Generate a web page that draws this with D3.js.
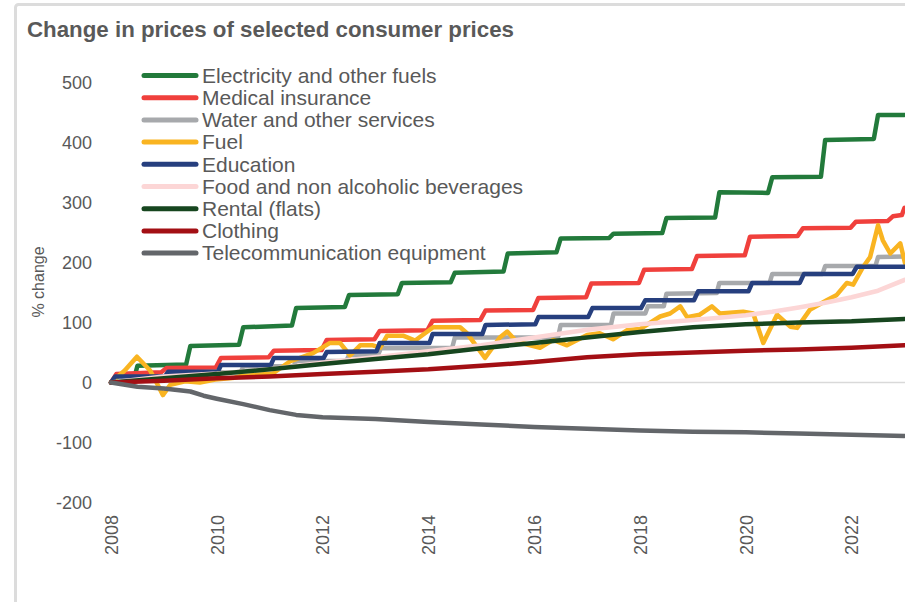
<!DOCTYPE html>
<html lang="en">
  <head>
    <meta charset="UTF-8" />
    <title>Change in prices of selected consumer prices</title>
    <script src="https://d3js.org/d3.v7.min.js"></script>
    <style>
      body {
        margin: 0;
        background: #ffffff;
        font-family: "Liberation Sans", Arial, sans-serif;
      }
      svg text {
        fill: #595959;
      }
    </style>
  </head>
  <body>
    <div id="chart"></div>
    <script>
    // Series names, in legend order
    const seriesNames = [
        "Electricity and other fuels",
        "Medical insurance",
        "Water and other services",
        "Fuel",
        "Education",
        "Food and non alcoholic beverages",
        "Rental (flats)",
        "Clothing",
        "Telecommunication equipment"
    ];

    // Values: [decimal year, % change]
    const electricity = [
        [2008.0, 0], [2008.42, 1], [2008.5, 28], [2009.42, 30], [2009.5, 61],
        [2010.42, 63], [2010.5, 92], [2011.42, 95], [2011.5, 124], [2012.42, 126],
        [2012.5, 146], [2013.42, 147], [2013.5, 166], [2014.42, 167], [2014.5, 183],
        [2015.42, 185], [2015.5, 215], [2016.42, 217], [2016.5, 240], [2017.42, 241],
        [2017.5, 248], [2018.42, 249], [2018.5, 274], [2019.42, 275], [2019.5, 317],
        [2020.42, 316], [2020.5, 342], [2021.42, 343], [2021.5, 404], [2022.42, 406],
        [2022.5, 446], [2023.0, 446]
    ];
    const medical = [
        [2008.0, 0], [2008.1, 14], [2008.95, 17], [2009.05, 24], [2009.98, 25],
        [2010.08, 41], [2010.98, 42], [2011.08, 53], [2011.98, 54], [2012.08, 71],
        [2012.98, 72], [2013.08, 86], [2013.98, 87], [2014.08, 103], [2014.98, 104],
        [2015.08, 120], [2015.98, 121], [2016.08, 141], [2016.98, 142], [2017.08, 165],
        [2017.98, 166], [2018.08, 188], [2018.98, 189], [2019.08, 211], [2019.98, 212],
        [2020.08, 243], [2020.98, 244], [2021.08, 257], [2021.98, 258], [2022.08, 268],
        [2022.68, 269], [2022.78, 277], [2022.95, 279], [2023.0, 291]
    ];
    const water = [
        [2008.0, 0], [2008.45, 0], [2008.5, 8], [2009.45, 8], [2009.5, 17],
        [2010.45, 17], [2010.5, 27], [2011.45, 27], [2011.5, 36], [2012.45, 36],
        [2012.5, 46], [2013.05, 46], [2013.1, 57], [2014.45, 58], [2014.5, 75],
        [2016.45, 75], [2016.5, 96], [2017.45, 96], [2017.5, 115], [2018.1, 115],
        [2018.15, 127], [2018.45, 127], [2018.5, 148], [2019.45, 149], [2019.5, 166],
        [2020.45, 166], [2020.5, 181], [2021.45, 181], [2021.5, 194], [2022.45, 194],
        [2022.5, 209], [2023.0, 210]
    ];
    const fuel = [
        [2008.0, 0], [2008.26, 20], [2008.49, 43], [2008.74, 20], [2008.89, -5],
        [2008.98, -21], [2009.12, -4], [2009.4, 2], [2009.68, 0], [2009.97, 5],
        [2010.34, 8], [2010.63, 15], [2011.06, 15], [2011.38, 35], [2011.82, 49],
        [2012.14, 66], [2012.33, 66], [2012.52, 45], [2012.71, 62], [2012.95, 62],
        [2013.09, 58], [2013.22, 78], [2013.52, 78], [2013.75, 70], [2014.09, 92],
        [2014.6, 92], [2014.73, 82], [2015.07, 41], [2015.35, 75], [2015.49, 85],
        [2015.67, 68], [2016.11, 58], [2016.36, 71], [2016.62, 62], [2017.0, 79],
        [2017.24, 82], [2017.49, 72], [2017.75, 87], [2018.0, 89], [2018.38, 110],
        [2018.57, 115], [2018.76, 127], [2018.89, 109], [2019.13, 113], [2019.36, 127],
        [2019.51, 115], [2019.95, 118], [2020.14, 115], [2020.33, 66], [2020.59, 113],
        [2020.84, 93], [2020.97, 91], [2021.21, 121], [2021.53, 137], [2021.72, 146],
        [2021.91, 166], [2022.03, 163], [2022.22, 193], [2022.35, 209], [2022.5, 262],
        [2022.59, 237], [2022.73, 215], [2022.92, 232], [2023.01, 199]
    ];
    const education = [
        [2008.0, 0], [2008.08, 10], [2009.02, 10], [2009.08, 18], [2010.02, 18],
        [2010.08, 29], [2011.02, 29], [2011.08, 41], [2012.02, 41], [2012.08, 51],
        [2013.02, 52], [2013.08, 66], [2014.02, 66], [2014.08, 81], [2015.02, 81],
        [2015.08, 96], [2016.02, 97], [2016.08, 109], [2017.02, 109], [2017.1, 124],
        [2018.02, 124], [2018.1, 137], [2019.02, 137], [2019.1, 152], [2020.05, 152],
        [2020.12, 166], [2021.02, 166], [2021.1, 181], [2022.02, 181], [2022.1, 193],
        [2023.0, 193]
    ];
    const food = [
        [2008.0, 0], [2009.0, 10], [2010.0, 15], [2011.0, 22], [2012.0, 33],
        [2013.0, 42], [2014.0, 52], [2015.0, 62], [2016.0, 75], [2017.0, 88],
        [2018.0, 97], [2019.0, 104], [2019.5, 108], [2020.0, 112], [2020.5, 118],
        [2021.0, 125], [2021.5, 133], [2022.0, 142], [2022.5, 153], [2023.0, 171]
    ];
    const rental = [
        [2008.0, 0], [2009.0, 7], [2010.0, 14], [2011.0, 22], [2012.0, 31],
        [2013.0, 39], [2014.0, 47], [2015.0, 57], [2016.0, 66], [2017.0, 75],
        [2018.0, 84], [2019.0, 92], [2020.0, 97], [2021.0, 100], [2022.0, 102],
        [2023.0, 106]
    ];
    const clothing = [
        [2008.0, 0], [2009.0, 3], [2010.0, 7], [2011.0, 10], [2012.0, 14],
        [2013.0, 18], [2014.0, 22], [2015.0, 28], [2016.0, 34], [2017.0, 42],
        [2018.0, 47], [2019.0, 50], [2020.0, 53], [2021.0, 55], [2022.0, 58],
        [2023.0, 62]
    ];
    const telecom = [
        [2008.0, 0], [2008.5, -7], [2009.0, -10], [2009.5, -15], [2009.75, -22],
        [2010.0, -27], [2010.5, -36], [2011.0, -46], [2011.5, -54], [2012.0, -58],
        [2013.0, -61], [2014.0, -66], [2015.0, -70], [2016.0, -74], [2017.0, -77],
        [2018.0, -80], [2019.0, -82], [2020.0, -83], [2021.0, -85], [2022.0, -87],
        [2023.0, -89]
    ];

    const seriesValues = [electricity, medical, water, fuel, education, food, rental, clothing, telecom];

    const seriesColors = [
        "#227a3b", // Electricity
        "#f0403c", // Medical insurance
        "#a7a9ac", // Water
        "#f9b421", // Fuel
        "#263f7e", // Education
        "#fcd6d6", // Food
        "#17461f", // Rental
        "#a30f14", // Clothing
        "#63666a"  // Telecom
    ];

    const yTicks = [-200, -100, 0, 100, 200, 300, 400, 500];
    const xTicks = [2008, 2010, 2012, 2014, 2016, 2018, 2020, 2022];

    const width = 905, height = 602;

    const svg = d3.select("#chart")
        .append("svg")
        .attr("width", width)
        .attr("height", height);

    // Outer frame (cut off at right and bottom)
    svg.append("rect")
        .attr("x", 15.5)
        .attr("y", 4.5)
        .attr("width", 1000)
        .attr("height", 700)
        .attr("rx", 3)
        .attr("fill", "#ffffff")
        .attr("stroke", "#dcdcdc")
        .attr("stroke-width", 3);

    // Title
    svg.append("text")
        .attr("x", 27)
        .attr("y", 37)
        .attr("font-size", "22.3px")
        .attr("font-weight", "bold")
        .text("Change in prices of selected consumer prices");

    // Scales
    const x = d3.scaleLinear()
        .domain([2008, 2023])
        .range([111, 904.5]);

    const y = d3.scaleLinear()
        .domain([-200, 500])
        .range([502.5, 82.5]);

    // Y axis labels (plain hyphen for negatives)
    const yAxis = svg.append("g")
        .attr("transform", "translate(92,0)")
        .call(d3.axisLeft(y).tickValues(yTicks).tickFormat(d => String(d)).tickSize(0).tickPadding(0));
    yAxis.select(".domain").remove();
    yAxis.selectAll("text")
        .attr("font-size", "18px")
        .attr("font-family", "Liberation Sans, Arial, sans-serif")
        .attr("fill", "#595959");

    // X axis labels, rotated
    const xAxis = svg.append("g")
        .attr("transform", "translate(0,515)")
        .call(d3.axisBottom(x).tickValues(xTicks).tickFormat(d => String(d)).tickSize(0).tickPadding(0));
    xAxis.select(".domain").remove();
    xAxis.selectAll("text")
        .attr("font-size", "18px")
        .attr("font-family", "Liberation Sans, Arial, sans-serif")
        .attr("fill", "#595959")
        .attr("transform", "rotate(-90)")
        .attr("text-anchor", "end")
        .attr("x", 0)
        .attr("y", 0)
        .attr("dy", "0.35em");

    // Y axis title
    svg.append("text")
        .attr("transform", "translate(44,282) rotate(-90)")
        .attr("text-anchor", "middle")
        .attr("font-size", "16px")
        .text("% change");

    // Zero line
    svg.append("line")
        .attr("x1", x(2008))
        .attr("x2", width)
        .attr("y1", y(0))
        .attr("y2", y(0))
        .attr("stroke", "#d9d9d9")
        .attr("stroke-width", 1.5);

    // Clip to the visible plot area
    svg.append("clipPath")
        .attr("id", "plot-clip")
        .append("rect")
        .attr("x", 100)
        .attr("y", 60)
        .attr("width", width - 100)
        .attr("height", 480);

    const line = d3.line()
        .x(d => x(d[0]))
        .y(d => y(d[1]));

    svg.append("g")
        .attr("clip-path", "url(#plot-clip)")
        .selectAll("path")
        .data(seriesValues)
        .enter()
        .append("path")
        .attr("d", line)
        .attr("fill", "none")
        .attr("stroke", (d, i) => seriesColors[i])
        .attr("stroke-width", 4.5)
        .attr("stroke-linejoin", "round")
        .attr("stroke-linecap", "round");

    // Legend
    const legend = svg.append("g")
        .selectAll("g")
        .data(seriesNames)
        .enter()
        .append("g")
        .attr("transform", (d, i) => `translate(0, ${75.5 + i * 22.2})`);

    legend.append("line")
        .attr("x1", 144)
        .attr("x2", 196)
        .attr("stroke", (d, i) => seriesColors[i])
        .attr("stroke-width", 5)
        .attr("stroke-linecap", "round");

    legend.append("text")
        .attr("x", 202)
        .attr("dy", "0.35em")
        .attr("font-size", "21px")
        .text(d => d);
    </script>
  </body>
</html>
